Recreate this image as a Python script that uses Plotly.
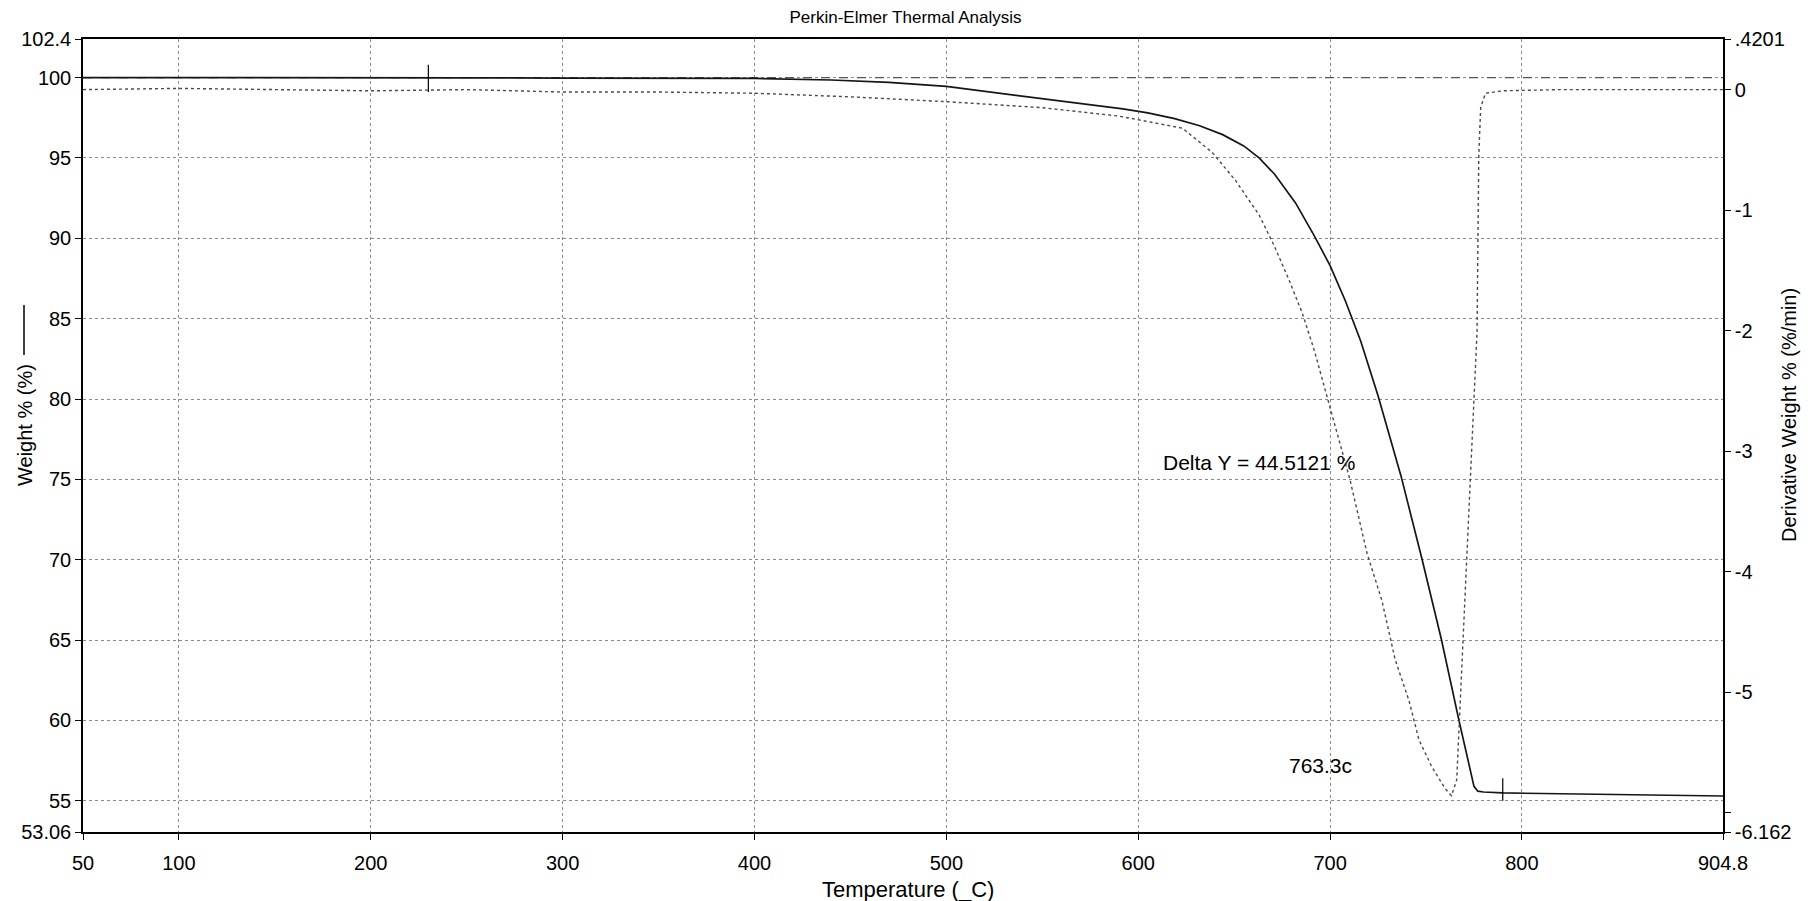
import plotly.graph_objects as go

# ---- TGA run: sample weight vs furnace temperature ----
temperature_c = [50, 100, 150, 200, 230, 250, 300, 350, 400, 440, 470, 500, 530, 555, 575,
                 592, 605, 619, 632, 644, 655, 663, 671, 682, 692, 700, 708, 716, 725, 737,
                 748, 758, 767, 772, 775, 777, 780, 790, 820, 850, 880, 904.8]
weight_pct = [100.0, 100.0, 100.02, 99.98, 100.0016, 99.98, 99.97, 99.97, 99.95, 99.85, 99.7,
              99.45, 99.0, 98.6, 98.3, 98.05, 97.8, 97.45, 97.0, 96.45, 95.75, 95.0, 94.0,
              92.2, 90.1, 88.3, 86.1, 83.6, 80.2, 75.2, 70.0, 65.05, 60.1, 57.5, 55.9, 55.6,
              55.55, 55.4895, 55.45, 55.4, 55.35, 55.3]

# ---- first derivative of weight (%/min) ----
deriv_temp_c = [50, 100, 150, 200, 250, 300, 350, 400, 450, 500, 550, 590, 623, 638.5, 650.5,
                663, 671, 678.6, 685.4, 691.7, 697.4, 702, 710.4, 719.3, 727, 733.9, 741.1,
                746.4, 753, 759.9, 763.3, 766, 770, 773, 776.6, 777.5, 778.5, 781, 790, 820,
                850, 880, 904.8]
deriv_pct_min = [0.0, 0.01, 0.0, -0.01, 0.0, -0.02, -0.02, -0.03, -0.06, -0.10, -0.15, -0.22,
                 -0.32, -0.52, -0.75, -1.04, -1.30, -1.58, -1.85, -2.16, -2.49, -2.76, -3.24,
                 -3.85, -4.24, -4.73, -5.07, -5.40, -5.62, -5.80, -5.86, -5.73, -4.30, -3.25,
                 -2.01, -0.55, -0.15, -0.03, -0.01, 0.0, 0.0, 0.0, 0.0]

# ---- 100 % reference level and step-change cursors ----
reference_pct = 100.0
cursor_temp_c = [230, 790]
cursor_span_low = [99.1, 55.0]
cursor_span_high = [100.8, 56.4]
peak_temp_c = 763.3

# ---- axis ticks ----
x_range = [50, 904.8]
x_ticks = [50, 100, 200, 300, 400, 500, 600, 700, 800, 904.8]
x_tick_text = ["50", "100", "200", "300", "400", "500", "600", "700", "800", "904.8"]
y_ticks = [53.06, 55, 60, 65, 70, 75, 80, 85, 90, 95, 100, 102.4]
y_tick_text = ["53.06", "55", "60", "65", "70", "75", "80", "85", "90", "95", "100", "102.4"]
y2_ticks = [0.4201, 0, -1, -2, -3, -4, -5, -6, -6.162]
y2_tick_text = [".4201", "0", "-1", "-2", "-3", "-4", "-5", "", "-6.162"]

w_at = dict(zip(temperature_c, weight_pct))
delta_y = w_at[cursor_temp_c[0]] - w_at[cursor_temp_c[1]]

FONT = "Liberation Sans, Arial, sans-serif"
W, H = 1811, 901
ML, MR, MT, MB = 83, 88, 39, 69
PW, PH = W - ML - MR, H - MT - MB


def px_x(px):
    return (px - ML) / PW


def px_y(py):
    return (H - MB - py) / PH


fig = go.Figure()

fig.add_trace(go.Scatter(
    x=x_range, y=[reference_pct, reference_pct], mode="lines",
    line=dict(color="#555", width=1.2, dash="dash"), hoverinfo="skip", name="100 %"))

fig.add_trace(go.Scatter(
    x=deriv_temp_c, y=deriv_pct_min, yaxis="y2", mode="lines",
    line=dict(color="#4a4a4a", width=1.4, dash="dot"), name="Derivative Weight %",
    hoverinfo="skip"))

fig.add_trace(go.Scatter(
    x=temperature_c, y=weight_pct, mode="lines",
    line=dict(color="#151515", width=1.7), name="Weight %"))

cx, cy = [], []
for t, lo, hi in zip(cursor_temp_c, cursor_span_low, cursor_span_high):
    cx += [t, t, None]
    cy += [lo, hi, None]
fig.add_trace(go.Scatter(x=cx, y=cy, mode="lines", line=dict(color="#000", width=1.2),
                         hoverinfo="skip", name="cursor"))

axis_common = dict(
    showline=True, linecolor="#000", linewidth=1.5, ticks="outside", ticklen=6,
    tickcolor="#000", tickfont=dict(family=FONT, size=20, color="#000"), zeroline=False,
)

fig.update_layout(
    width=W, height=H, margin=dict(l=ML, r=MR, t=MT, b=MB),
    paper_bgcolor="white", plot_bgcolor="white", showlegend=False,
    font=dict(family=FONT, size=17, color="#000"),
    title=dict(text="Perkin-Elmer Thermal Analysis", x=0.5, xanchor="center",
               y=1 - 17 / H, yanchor="middle", yref="container",
               font=dict(family=FONT, size=17, color="#000")),
    xaxis=dict(range=x_range, tickmode="array", tickvals=x_ticks, ticktext=x_tick_text,
               mirror=True, showgrid=True, gridcolor="#8a8a8a", griddash="dot", gridwidth=1,
               ticklabelstandoff=6, **axis_common),
    yaxis=dict(range=[53.06, 102.4], tickmode="array", tickvals=y_ticks, ticktext=y_tick_text,
               showgrid=True, gridcolor="#8a8a8a", griddash="dot", gridwidth=1, **axis_common),
    yaxis2=dict(range=[-6.162, 0.4201], tickmode="array", tickvals=y2_ticks,
                ticktext=y2_tick_text, overlaying="y", side="right", showgrid=False,
                **axis_common),
)

annotations = [
    dict(text="Temperature (_C)", xref="paper", yref="paper", x=px_x(908), y=px_y(889),
         xanchor="center", yanchor="middle", showarrow=False,
         font=dict(family=FONT, size=22, color="#000")),
    dict(text="Weight % (%)", xref="paper", yref="paper", x=px_x(25), y=px_y(425),
         textangle=-90, xanchor="center", yanchor="middle", showarrow=False,
         font=dict(family=FONT, size=20, color="#000")),
    dict(text="Derivative Weight % (%/min)", xref="paper", yref="paper", x=px_x(1789),
         y=px_y(415), textangle=-90, xanchor="center", yanchor="middle", showarrow=False,
         font=dict(family=FONT, size=20, color="#000")),
    dict(text=f"Delta Y = {delta_y:.4f} %", x=663, y=76.06, xref="x", yref="y",
         xanchor="center", yanchor="middle", showarrow=False,
         font=dict(family=FONT, size=21, color="#000")),
    dict(text=f"{peak_temp_c:.1f}c", x=695, y=57.2, xref="x", yref="y",
         xanchor="center", yanchor="middle", showarrow=False,
         font=dict(family=FONT, size=21, color="#000")),
]
fig.update_layout(annotations=annotations)

# line sample beside the weight axis title
fig.add_shape(type="line", xref="paper", yref="paper", x0=px_x(24), x1=px_x(24),
              y0=px_y(305), y1=px_y(355), line=dict(color="#000", width=1.5))

fig.write_html("out.html")
